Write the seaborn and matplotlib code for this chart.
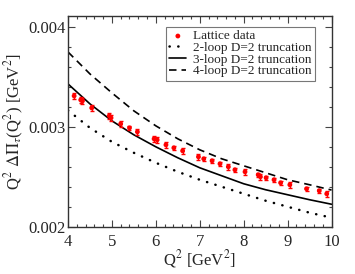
import numpy as np
import pandas as pd
import matplotlib
matplotlib.use("Agg")
import matplotlib.pyplot as plt
from matplotlib.ticker import MultipleLocator
import seaborn as sns

# lattice points
q2_lat = [4.14, 4.29, 4.33, 4.54, 4.94, 4.98, 5.20, 5.40, 5.58, 5.96, 6.03, 6.23,
          6.41, 6.61, 6.97, 7.09, 7.28, 7.46, 7.65, 7.80, 8.03, 8.33, 8.38, 8.51,
          8.69, 8.84, 9.05, 9.43, 9.72, 9.89]
val_lat = [0.00331, 0.00327, 0.00326, 0.00319, 0.00311, 0.00309, 0.00303, 0.00299,
           0.00295, 0.00288, 0.00287, 0.00282, 0.00279, 0.00276, 0.00270, 0.00268,
           0.00266, 0.00263, 0.00260, 0.00257, 0.00255, 0.00252, 0.00250, 0.00249,
           0.00247, 0.00244, 0.00242, 0.00238, 0.00236, 0.00233]
err_lat = [0.00003, 0.00003, 0.00003, 0.00003, 0.00003, 0.00003, 0.00003, 0.00002,
           0.00003, 0.00003, 0.00003, 0.00003, 0.00002, 0.00003, 0.00003, 0.00002,
           0.00002, 0.00002, 0.00003, 0.00002, 0.00003, 0.00002, 0.00003, 0.00002,
           0.00002, 0.00002, 0.00003, 0.00002, 0.00002, 0.00003]

# truncation curves
q2_curve = [4.0, 4.5, 5.0, 5.5, 6.0, 6.5, 7.0, 7.5, 8.0, 8.5, 9.0, 9.5, 10.0]
loop2 = [0.003165, 0.00299, 0.00285, 0.00274, 0.00264, 0.00255, 0.00247, 0.00240,
         0.00233, 0.00226, 0.00220, 0.00214, 0.00209]
loop3 = [0.00343, 0.00323, 0.00306, 0.00292, 0.00280, 0.00269, 0.00259, 0.00251,
         0.00243, 0.00237, 0.00232, 0.00227, 0.002225]
loop4 = [0.00375, 0.00353, 0.00334, 0.00316, 0.00301, 0.00288, 0.00277, 0.00268,
         0.00261, 0.00254, 0.00247, 0.00242, 0.002367]

lat = pd.DataFrame({"q2": q2_lat, "val": val_lat, "err": err_lat})
curves = pd.DataFrame({"q2": q2_curve, "l2": loop2, "l3": loop3, "l4": loop4})

sns.set_style("ticks")
plt.rcParams["font.family"] = ["Liberation Serif", "DejaVu Serif"]
plt.rcParams["mathtext.fontset"] = "stix"

fig = plt.figure(figsize=(3.55, 2.74), dpi=100)
ax = fig.add_axes([0.1915, 0.1726, 0.7425, 0.769])

ax.errorbar(lat["q2"], lat["val"], yerr=lat["err"], fmt="none", ecolor="red",
            elinewidth=1.0, capsize=1.5, capthick=1.0, zorder=3)
sns.scatterplot(data=lat, x="q2", y="val", color="red", s=12, edgecolor="none",
                label="Lattice data", ax=ax, zorder=4)
sns.lineplot(data=curves, x="q2", y="l2", color="black", lw=1.8,
             label="2-loop D=2 truncation", ax=ax)
sns.lineplot(data=curves, x="q2", y="l3", color="black", lw=1.2,
             label="3-loop D=2 truncation", ax=ax)
sns.lineplot(data=curves, x="q2", y="l4", color="black", lw=1.2,
             label="4-loop D=2 truncation", ax=ax)
ax.lines[-3].set_linestyle((0, (0.1, 3.4)))
ax.lines[-3].set_dash_capstyle("round")
ax.lines[-1].set_linestyle((0, (4.5, 3)))

ax.set_xlim(4, 10)
ax.set_ylim(0.002, 0.00411)
ax.xaxis.set_major_locator(MultipleLocator(1))
ax.xaxis.set_minor_locator(MultipleLocator(0.2))
ax.yaxis.set_major_locator(MultipleLocator(0.001))
ax.yaxis.set_minor_locator(MultipleLocator(0.0002))
ax.tick_params(which="both", direction="in", top=True, right=True, labelsize=12,
               color="#444444")
ax.tick_params(which="major", length=5, width=0.8)
ax.tick_params(which="minor", length=2.5, width=0.8)
ax.tick_params(axis="x", pad=5)
ax.tick_params(axis="y", pad=1.5)
ax.yaxis.set_major_formatter(matplotlib.ticker.FormatStrFormatter("%.3f"))
for s in ax.spines.values():
    s.set_linewidth(1.0)
    s.set_color("#333333")

ax.set_xlabel(r"Q$^2$ [GeV$^2$]", fontsize=12, labelpad=-1)
ax.set_ylabel(r"Q$^2$ $\Delta\Pi_\tau$(Q$^2$) [GeV$^2$]", fontsize=12, labelpad=2)

leg = ax.legend(loc="upper right", bbox_to_anchor=(0.937, 0.948), fontsize=9.5,
                frameon=True, fancybox=False, handlelength=1.3, handletextpad=0.5,
                borderpad=0.25, labelspacing=-0.05, borderaxespad=0)
leg.get_frame().set_edgecolor("#555555")
leg.get_frame().set_linewidth(0.8)

fig.savefig("out.png", dpi=100)
